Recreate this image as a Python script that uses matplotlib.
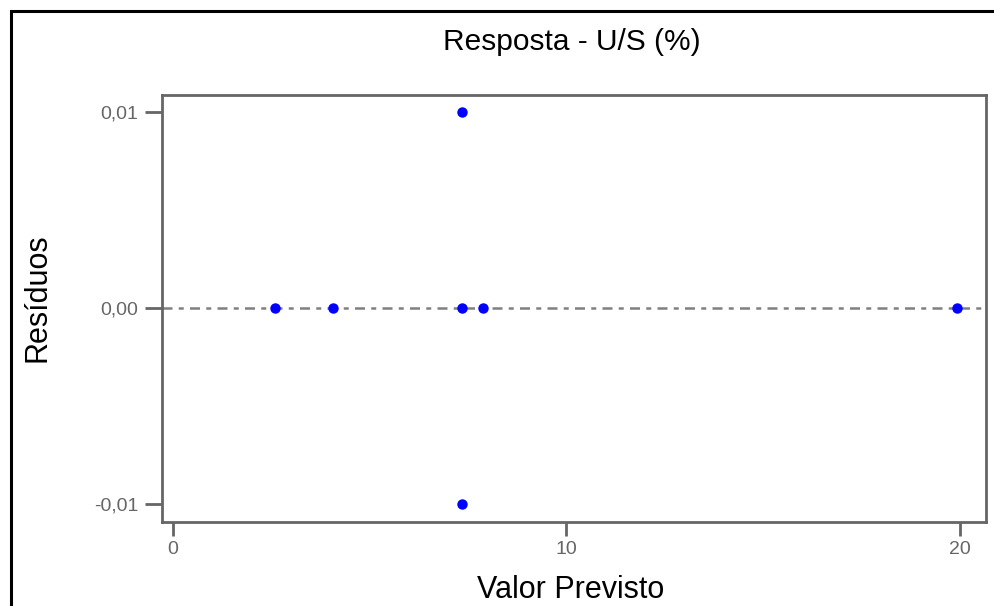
import matplotlib
matplotlib.use('Agg')
import matplotlib.pyplot as plt
from matplotlib.patches import Rectangle
from matplotlib.ticker import FuncFormatter

plt.rcParams['font.family'] = ['Liberation Sans', 'DejaVu Sans']

# valores
previsto = [2.59, 4.07, 7.34, 7.34, 7.34, 7.88, 19.92]
residuos = [0.0, 0.0, 0.01, 0.0, -0.01, 0.0, 0.0]
xticks = [0, 10, 20]
yticks = [-0.01, 0.0, 0.01]

fig = plt.figure(figsize=(9.94, 6.06), dpi=100)
W, H = 994, 606
ax = fig.add_axes([162 / W, 1 - 522 / H, (986 - 162) / W, (522 - 95) / H])

ax.axhline(0, color='#808080', lw=1.8, ls=(0, (4, 2.5, 2, 2.5)), zorder=1)
ax.plot(previsto, residuos, 'o', color='#0000ff', ms=6.5, mec='#0000ff', zorder=3)

ax.set_xlim(-0.28, 20.67)
ax.set_ylim(-0.01092, 0.01087)
ax.set_xticks(xticks)
ax.set_yticks(yticks)
ax.yaxis.set_major_formatter(FuncFormatter(lambda v, p: ('%.2f' % v).replace('.', ',')))

for s in ax.spines.values():
    s.set_color('#666666')
    s.set_linewidth(2)
ax.tick_params(axis='y', length=12, width=2, color='#666666', labelcolor='#666666',
               labelsize=14, pad=5)
ax.tick_params(axis='x', length=10, width=2, color='#666666', labelcolor='#666666',
               labelsize=14, pad=4)

fig.text(572 / W, 1 - 42 / H, 'Resposta - U/S (%)', ha='center', va='center', fontsize=21.5)
fig.text(571 / W, 1 - 590 / H, 'Valor Previsto', ha='center', va='center', fontsize=22)
fig.text(37 / W, 1 - 298 / H, 'Resíduos', ha='center', va='center', fontsize=22,
         rotation=90)

# moldura externa
fig.patches.append(Rectangle((11 / W, -0.1), 1.2, 1 - 11 / H + 0.1, transform=fig.transFigure,
                             fill=False, ec='black', lw=2.2))

fig.savefig('out.png', dpi=100)
